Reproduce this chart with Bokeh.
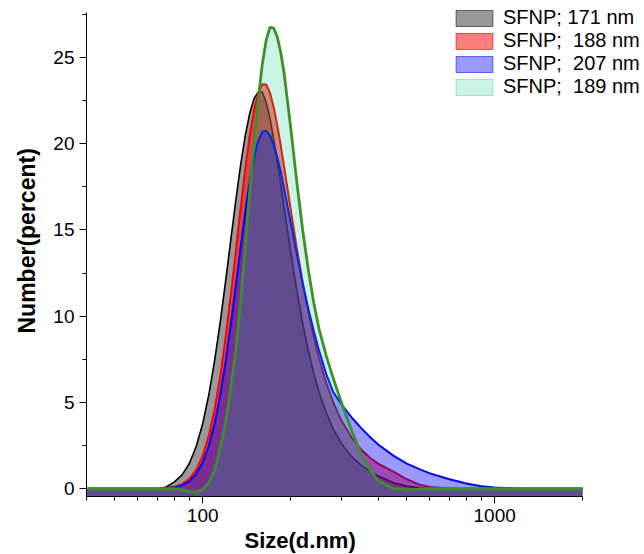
from bokeh.plotting import figure
from bokeh.models import (Range1d, FixedTicker, BasicTickFormatter, Title,
                          Legend, LegendItem)
from bokeh.embed import file_html
from bokeh.resources import INLINE

size_nm = [40, 60, 70, 75, 80, 85, 90, 95, 100, 105, 110, 115, 120, 125, 130,
           135, 140, 145, 150, 155, 160, 165, 170, 175, 180, 185, 190, 200,
           210, 220, 230, 240, 250, 265, 280, 300, 325, 350, 375, 400, 450,
           500, 550, 600, 700, 800, 900, 1000, 1200, 1500, 2000]

sfnp_171 = [0, 0, 0, 0.1, 0.4, 0.8, 1.46, 2.45, 3.77, 5.46, 7.48, 9.73, 12.12,
            14.51, 16.78, 18.81, 20.5, 21.78, 22.62, 23.0, 23.0, 22.39, 21.46,
            20.3, 19.0, 17.66, 16.3, 13.77, 11.51, 9.6, 8.01, 6.7, 5.64, 4.4,
            3.46, 2.57, 1.83, 1.34, 1.01, 0.72, 0.35, 0.15, 0.05, 0, 0, 0, 0,
            0, 0, 0, 0]

sfnp_188 = [0, 0, 0, 0.04, 0.11, 0.27, 0.57, 1.09, 1.91, 3.09, 4.65, 6.59,
            8.85, 11.31, 13.84, 16.31, 18.57, 20.49, 21.97, 22.96, 23.44,
            23.43, 22.95, 22.13, 21.09, 19.92, 18.69, 16.25, 13.98, 11.97,
            10.27, 8.81, 7.61, 6.13, 5.0, 3.89, 2.92, 2.25, 1.78, 1.44, 0.99,
            0.55, 0.25, 0.1, 0.02, 0, 0, 0, 0, 0, 0]

sfnp_207 = [0, 0, 0, 0.03, 0.08, 0.2, 0.44, 0.85, 1.52, 2.49, 3.81, 5.47,
            7.42, 9.57, 11.81, 14.03, 16.07, 17.84, 19.22, 20.18, 20.68,
            20.75, 20.47, 19.94, 19.23, 18.41, 17.37, 15.47, 13.6, 11.91,
            10.44, 9.17, 8.05, 6.65, 5.6, 4.85, 4.1, 3.5, 2.98, 2.55, 1.92,
            1.46, 1.15, 0.89, 0.55, 0.3, 0.15, 0.07, 0.01, 0, 0]

sfnp_189 = [0, 0, 0, 0, 0, -0.05, -0.17, -0.2, -0.05, 0.35, 1.1, 2.4, 3.9,
            5.9, 8.1, 10.9, 14.0, 17.3, 20.1, 22.6, 24.6, 26.0, 26.75, 26.7,
            26.2, 25.3, 24.1, 21.0, 17.8, 15.0, 12.7, 10.8, 9.3, 7.7, 6.4,
            4.9, 3.3, 2.0, 1.06, 0.45, 0.0, -0.05, -0.02, 0, 0, 0, 0, 0, 0,
            0, 0]

labels = ["SFNP; 171 nm", "SFNP;  188 nm", "SFNP;  207 nm", "SFNP;  189 nm"]
x_ticks = [100, 1000]
x_minor = [40, 50, 60, 70, 80, 90, 200, 300, 400, 500, 600, 700, 800, 900, 2000]
y_ticks = [0, 5, 10, 15, 20, 25]
y_minor = [2.5, 7.5, 12.5, 17.5, 22.5, 27.5]

X_MIN, X_MAX = 40, 2000          # axis extent
Y_MIN, Y_MAX = -0.45, 27.6
FONT = "Liberation Sans"
NAN = float("nan")

# frame spans the full width/top so the legend is not clipped;
# the axis lines are bounded to the data extent
p = figure(width=644, height=554, x_axis_type="log",
           x_range=Range1d(X_MIN, 3260), y_range=Range1d(Y_MIN, 28.3),
           output_backend="svg", toolbar_location=None,
           min_border_left=85, min_border_right=0, min_border_top=0,
           min_border_bottom=58)
p.outline_line_color = None
p.grid.visible = False
p.background_fill_color = "white"

series = [
    (sfnp_171, "black", 0.4, "black", 1.6),
    (sfnp_188, "red", 0.5, "red", 2.0),
    (sfnp_207, "blue", 0.4, "blue", 2.0),
    (sfnp_189, "#00c882", 0.2, "#3f8f2a", 2.8),
]
items = []
for (vals, fc, fa, lc, lw), lab in zip(series, labels):
    p.varea(x=size_nm, y1=Y_MIN, y2=vals, fill_color=fc, fill_alpha=fa)
    p.line(size_nm, vals, line_color=lc, line_width=lw)
    swatch = p.quad(left=[NAN], right=[NAN], top=[NAN], bottom=[NAN],
                    fill_color=fc, fill_alpha=fa, line_color=fc,
                    line_alpha=min(1, fa + 0.15), line_width=1)
    items.append(LegendItem(label=lab, renderers=[swatch]))

legend = Legend(items=items, location=(365, 398), glyph_width=46,
                glyph_height=20, label_standoff=6, spacing=0, padding=0,
                margin=0, border_line_alpha=0, background_fill_alpha=0,
                label_text_font=FONT, label_text_font_size="20px",
                label_text_color="black", label_height=20)
p.add_layout(legend, "center")

for ax in (p.xaxis[0], p.yaxis[0]):
    ax.axis_line_color = "black"
    ax.axis_line_width = 1
    ax.major_tick_in = 0
    ax.major_tick_out = 7
    ax.minor_tick_in = 0
    ax.minor_tick_out = 4
    ax.major_tick_line_color = "black"
    ax.minor_tick_line_color = "black"
    ax.major_label_text_font = FONT
    ax.major_label_text_font_size = "19px"
    ax.major_label_text_color = "black"
    ax.major_label_standoff = 5

p.xaxis.bounds = (X_MIN, X_MAX)
p.yaxis.bounds = (Y_MIN, Y_MAX)
p.xaxis.ticker = FixedTicker(ticks=x_ticks, minor_ticks=x_minor)
p.xaxis.formatter = BasicTickFormatter()
p.yaxis.ticker = FixedTicker(ticks=y_ticks, minor_ticks=y_minor)

p.add_layout(Title(text="Size(d.nm)", align="left", offset=158,
                   text_font=FONT, text_font_size="22px", text_color="black",
                   text_font_style="bold", standoff=2), "below")
p.add_layout(Title(text="Number(percent)", align="left", offset=163,
                   text_font=FONT, text_font_size="23px", text_color="black",
                   text_font_style="bold", standoff=22), "left")

open("out.html", "w").write(file_html(p, INLINE))
